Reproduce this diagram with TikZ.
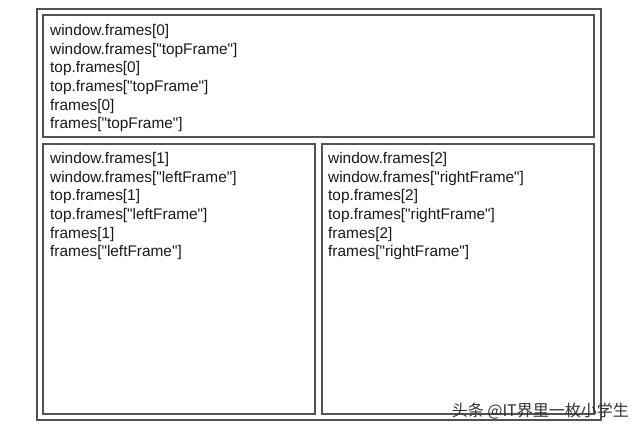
\documentclass[tikz,border=0pt]{standalone}
\usepackage{fontspec}
\setmainfont{Liberation Sans}[Ligatures=TeXOff]
\newfontfamily\cjk{Noto Sans CJK SC}
\usepackage{tikz}

\begin{document}
\begin{tikzpicture}[x=1pt, y=-1pt,
  box/.style={draw=black!68, line width=1.4pt},
  refs/.style={anchor=north west, inner sep=0pt, align=left, text=black!90,
    font=\fontsize{15.4}{18.7}\selectfont}]

\useasboundingbox (0,0) rectangle (640,434);

\draw[box] (37,9) rectangle (601,420);
\draw[box] (43,15) rectangle (594,137);
\draw[box] (43,144) rectangle (315,414);
\draw[box] (322,144) rectangle (594,414);

\node[refs] (topframe) at (50,24) {window.frames[0]\\window.frames["topFrame"]\\top.frames[0]\\top.frames["topFrame"]\\frames[0]\\frames["topFrame"]};
\node[refs] (leftframe) at (50,152) {window.frames[1]\\window.frames["leftFrame"]\\top.frames[1]\\top.frames["leftFrame"]\\frames[1]\\frames["leftFrame"]};
\node[refs] (rightframe) at (328,152) {window.frames[2]\\window.frames["rightFrame"]\\top.frames[2]\\top.frames["rightFrame"]\\frames[2]\\frames["rightFrame"]};

%watermark
\node[anchor=east, inner sep=0pt, text=black!80, font=\cjk\fontsize{16}{16}\selectfont] (mark) at (629,411) {头条 @IT界里一枚小学生};
\end{tikzpicture}
\end{document}
